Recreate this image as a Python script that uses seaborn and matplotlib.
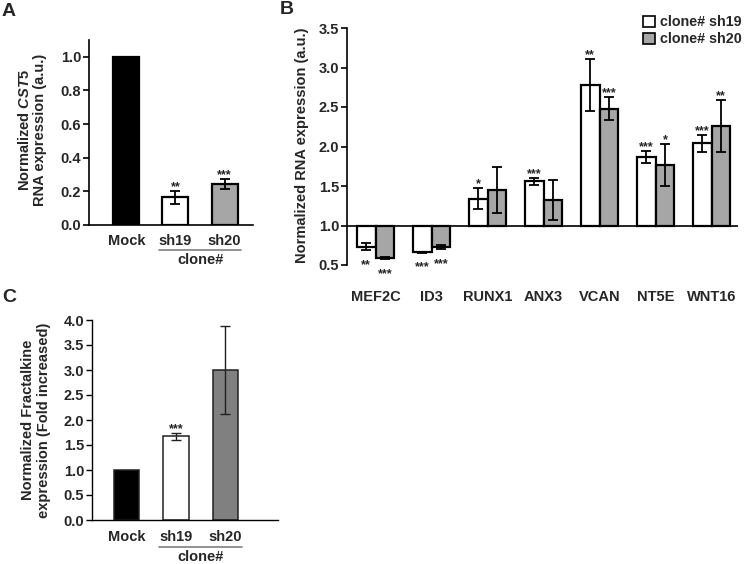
import numpy as np
import pandas as pd
import matplotlib
matplotlib.use("Agg")
import matplotlib.pyplot as plt
import matplotlib.transforms as mtransforms
from matplotlib.patches import Patch
import seaborn as sns

# ---- data ----
a_samples = ["Mock", "sh19", "sh20"]
a_values = [1.0, 0.165, 0.245]
a_err = [0.0, 0.04, 0.03]
a_stars = ["", "**", "***"]

genes = ["MEF2C", "ID3", "RUNX1", "ANX3", "VCAN", "NT5E", "WNT16"]
clones = ["clone# sh19", "clone# sh20"]
b_sh19 = [0.734, 0.663, 1.34, 1.557, 2.78, 1.866, 2.04]
b_sh19_err = [0.05, 0.005, 0.135, 0.05, 0.33, 0.08, 0.11]
b_sh20 = [0.587, 0.73, 1.45, 1.32, 2.48, 1.764, 2.26]
b_sh20_err = [0.01, 0.027, 0.295, 0.255, 0.145, 0.27, 0.33]
b_sh19_stars = ["**", "***", "*", "***", "**", "***", "***"]
b_sh20_stars = ["***", "***", "", "", "***", "*", "**"]

c_samples = ["Mock", "sh19", "sh20"]
c_values = [1.0, 1.674, 3.0]
c_err = [0.0, 0.07, 0.875]
c_stars = ["", "***", ""]

sns.set_theme(style="white")
plt.rcParams["font.family"] = ["Liberation Sans", "DejaVu Sans"]
plt.rcParams["font.weight"] = "bold"
plt.rcParams["mathtext.fontset"] = "custom"
plt.rcParams["mathtext.it"] = "Liberation Sans:italic:bold"
plt.rcParams["mathtext.rm"] = "Liberation Sans:bold"

W, H = 745, 564
fig = plt.figure(figsize=(W / 100, H / 100), dpi=100)


def px_axes(left, top, right, bottom):
    return fig.add_axes([left / W, 1 - bottom / H, (right - left) / W, (bottom - top) / H])


def style_axes(ax, lw=1.2):
    for s in ["top", "right"]:
        ax.spines[s].set_visible(False)
    for s in ["left", "bottom"]:
        ax.spines[s].set_color("black")
        ax.spines[s].set_linewidth(lw)
    ax.tick_params(axis="y", length=4, width=lw, color="black", pad=1.5,
                   labelsize=10.5, left=True)
    ax.tick_params(axis="x", length=0, labelsize=10.5)
    for lab in ax.get_xticklabels() + ax.get_yticklabels():
        lab.set_fontweight("bold")


def clone_bracket(ax, x0, x1, y_line, y_text, color="#808080"):
    tr = mtransforms.blended_transform_factory(ax.transData, ax.transAxes)
    ax.plot([x0, x1], [y_line, y_line], color=color, lw=1.2, transform=tr, clip_on=False)
    ax.text((x0 + x1) / 2, y_text, "clone#", transform=tr, ha="center", va="center",
            fontsize=10.5, fontweight="bold")


def star_above(ax, x, y, s):
    if s:
        ax.annotate(s, (x, y), xytext=(0, 0.5), textcoords="offset points",
                    ha="center", va="baseline", fontsize=9, fontweight="bold")


def star_below(ax, x, y, s):
    if s:
        ax.annotate(s, (x, y), xytext=(0, -13), textcoords="offset points",
                    ha="center", va="baseline", fontsize=9, fontweight="bold")


# ---- panel A ----
axA = px_axes(89, 40, 253, 225)
dfA = pd.DataFrame({"sample": a_samples, "value": a_values})
sns.barplot(data=dfA, x="sample", y="value", hue="sample", legend=False,
            palette=["black", "white", "#a6a6a6"], edgecolor="black", linewidth=1.6,
            width=0.53, errorbar=None, ax=axA)
xa = np.arange(len(a_samples))
axA.errorbar(xa[1:], a_values[1:], yerr=a_err[1:], fmt="none", ecolor="black",
             elinewidth=1.3, capsize=3.5, capthick=1.3)
for i in range(len(a_samples)):
    star_above(axA, xa[i], a_values[i] + a_err[i], a_stars[i])
axA.set_ylim(0, 1.1)
axA.set_yticks(np.arange(0, 1.01, 0.2))
axA.set_yticklabels([f"{v:.1f}" for v in np.arange(0, 1.01, 0.2)])
axA.set_xlim(-0.76, 2.58)
axA.set_xlabel("")
axA.set_ylabel("")
style_axes(axA)
axA.tick_params(axis="x", pad=6.8)
clone_bracket(axA, 0.67, 2.34, -0.135, -0.19)
fig.text(32 / W, 1 - 130 / H, "Normalized $\\mathit{CST5}$\nRNA expression (a.u.)",
         rotation=90, ha="center", va="center", multialignment="center",
         fontsize=10.5, fontweight="bold", linespacing=1.1)
fig.text(2 / W, 1 - 11 / H, "A", fontsize=14, fontweight="bold", ha="left", va="center")

# ---- panel B ----
axB = px_axes(347, 28, 738, 265)
dfB = pd.DataFrame({
    "gene": genes * 2,
    "clone": [clones[0]] * len(genes) + [clones[1]] * len(genes),
    "value": b_sh19 + b_sh20,
})
dfB["height"] = dfB["value"] - 1.0
sns.barplot(data=dfB, x="gene", y="height", hue="clone", hue_order=clones,
            palette=["white", "#a6a6a6"], edgecolor="black", linewidth=1.6,
            width=0.667, gap=0, errorbar=None, bottom=1.0, legend=False, ax=axB)
b_vals = [b_sh19, b_sh20]
b_errs = [b_sh19_err, b_sh20_err]
b_stars = [b_sh19_stars, b_sh20_stars]
bar_conts = list(axB.containers)
for k, cont in enumerate(bar_conts):
    xs = [bar.get_x() + bar.get_width() / 2 for bar in cont]
    axB.errorbar(xs, b_vals[k], yerr=b_errs[k], fmt="none", ecolor="black",
                 elinewidth=1.3, capsize=3.5, capthick=1.3)
    for x, v, e, s in zip(xs, b_vals[k], b_errs[k], b_stars[k]):
        if v >= 1:
            star_above(axB, x, v + e, s)
        else:
            star_below(axB, x, v - e, s)
axB.set_ylim(0.5, 3.5)
axB.set_yticks(np.arange(0.5, 3.51, 0.5))
axB.set_yticklabels([f"{v:.1f}" for v in np.arange(0.5, 3.51, 0.5)])
axB.set_xlim(-0.51, 6.47)
axB.set_xlabel("")
axB.set_ylabel("")
style_axes(axB)
axB.spines["bottom"].set_visible(False)
axB.axhline(1.0, color="black", lw=1.2, zorder=3)
axB.tick_params(axis="x", pad=18)
axB.legend(handles=[Patch(facecolor="white", edgecolor="black", linewidth=1.2),
                    Patch(facecolor="#a6a6a6", edgecolor="black", linewidth=1.2)],
           labels=clones, loc="upper left", bbox_to_anchor=(636 / W, 1 - 8 / H),
           bbox_transform=fig.transFigure, frameon=False, borderpad=0,
           handlelength=0.8, handleheight=0.8, handletextpad=0.4, labelspacing=0.2,
           prop={"size": 10.3, "weight": "bold"})
fig.text(302 / W, 1 - 145 / H, "Normalized RNA expression (a.u.)", rotation=90,
         ha="center", va="center", fontsize=10.5, fontweight="bold")
fig.text(280 / W, 1 - 9 / H, "B", fontsize=14, fontweight="bold", ha="left", va="center")

# ---- panel C ----
axC = px_axes(91.7, 320, 278, 520)
dfC = pd.DataFrame({"sample": c_samples, "value": c_values})
sns.barplot(data=dfC, x="sample", y="value", hue="sample", legend=False,
            palette=["black", "white", "#808080"], edgecolor="#202020", linewidth=1.1,
            width=0.51, errorbar=None, ax=axC)
xc = np.arange(len(c_samples))
axC.errorbar(xc[1:], c_values[1:], yerr=c_err[1:], fmt="none", ecolor="#202020",
             elinewidth=1.0, capsize=3.5, capthick=1.0)
for i in range(len(c_samples)):
    star_above(axC, xc[i], c_values[i] + c_err[i], c_stars[i])
axC.set_ylim(0, 4.0)
axC.set_yticks(np.arange(0, 4.01, 0.5))
axC.set_yticklabels([f"{v:.1f}" for v in np.arange(0, 4.01, 0.5)])
axC.set_xlim(-0.71, 3.07)
axC.set_xlabel("")
axC.set_ylabel("")
style_axes(axC, lw=1.0)
axC.tick_params(axis="x", pad=7.5)
clone_bracket(axC, 0.65, 2.34, -0.135, -0.185)
fig.text(36 / W, 1 - 420 / H, "Normalized Fractalkine\nexpression (Fold increased)",
         rotation=90, ha="center", va="center", multialignment="center",
         fontsize=10.5, fontweight="bold", linespacing=1.1)
fig.text(2 / W, 1 - 298 / H, "C", fontsize=14, fontweight="bold", ha="left", va="center")

fig.savefig("out.png", dpi=100, facecolor="white")
